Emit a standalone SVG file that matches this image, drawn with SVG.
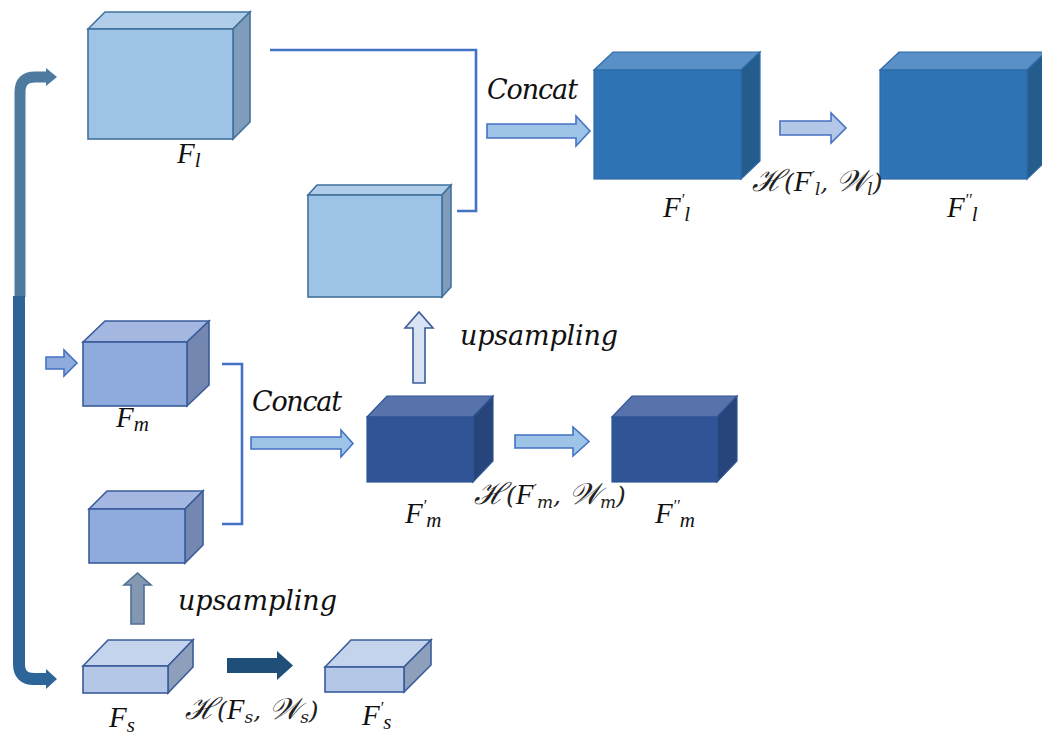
<svg xmlns="http://www.w3.org/2000/svg" width="1042" height="742" viewBox="0 0 1042 742">
  <defs>
    <style>
      .lb .front { fill: #9DC3E6; } .lb .top { fill: #B0CDEA; } .lb .side { fill: #7F9DBA; }
      .lb polygon, .lb rect { stroke: #41719C; stroke-width: 1.6; }
      .mb .front { fill: #8FAADC; } .mb .top { fill: #A3B7E1; } .mb .side { fill: #7387B0; }
      .mb polygon, .mb rect { stroke: #3A5C9B; stroke-width: 1.6; }
      .sb .front { fill: #B4C7E7; } .sb .top { fill: #C5D4ED; } .sb .side { fill: #8E9FBC; }
      .sb polygon, .sb rect { stroke: #3A5C9B; stroke-width: 1.6; }
      .db .front { fill: #2E74B5; } .db .top { fill: #5890C7; } .db .side { fill: #255C8E; }
      .db polygon, .db rect { stroke: #2E6AA6; stroke-width: 1.2; }
      .nb .front { fill: #2F5597; } .nb .top { fill: #5873AB; } .nb .side { fill: #27457A; }
      .nb polygon, .nb rect { stroke: #2F5597; stroke-width: 1.2; }
      .bracket { fill: none; stroke: #4472C4; stroke-width: 2.6; }
      .arr-light { fill: #9DC3E6; stroke: #4472C4; stroke-width: 1.6; }
      .arr-pale { fill: #B4C7E7; stroke: #4472C4; stroke-width: 1.6; }
      .arr-mid { fill: #8FAADC; stroke: #4472C4; stroke-width: 1.6; }
      .arr-up { fill: #DAE3F3; stroke: #3A5C9B; stroke-width: 1.6; }
      .arr-grey { fill: #8497B0; stroke: #4F6F96; stroke-width: 1.6; }
      .arr-dark { fill: #1F4E79; }
      .word { font-family: "DejaVu Serif", "Liberation Serif", serif; font-style: italic; font-size: 27px; fill: #111; }
      .math { font-family: "Liberation Serif", "DejaVu Serif", serif; font-style: italic; font-size: 29px; fill: #111; }
      .fn { font-family: "DejaVu Serif", "Liberation Serif", serif; font-style: italic; font-size: 25px; fill: #222; }
      .scr { font-size: 30px; }
      .sub { font-size: 17px; }
      .pr { font-size: 15px; }
    </style>
  </defs>

  <!-- skip connection bars on the left -->
  <g id="connectors">
    <path d="M20,297 V92 Q20,77 35,77 H47" fill="none" stroke="#4E7AA0" stroke-width="11"/>
    <polygon points="46,68 57,77 46,86" fill="#4E7AA0"/>
    <path d="M19,296 V664 Q19,679 34,679 H47" fill="none" stroke="#2D6599" stroke-width="12"/>
    <polygon points="46,669 57,679 46,689" fill="#2D6599"/>

    <!-- concat brackets -->
    <polyline class="bracket" points="270,50 476,50 476,211 457,211"/>
    <polyline class="bracket" points="222,364 242,364 242,524 222,524"/>

    <!-- block arrows -->
    <polygon class="arr-light" points="487,124 576,124 576,116 590,131 576,146 576,138 487,138"/>
    <polygon class="arr-pale" points="780,121 831,121 831,113 846,128 831,143 831,135 780,135"/>
    <polygon class="arr-light" points="251,437 341,437 341,430 353,443.5 341,457 341,449 251,449"/>
    <polygon class="arr-light" points="515,435 573,435 573,427 589,441.5 573,456 573,448 515,448"/>
    <polygon class="arr-mid" points="46,357 64,357 64,350 77,363 64,376 64,369 46,369"/>
    <polygon class="arr-up" points="413,383 413,328 405,328 419,312 433,328 425,328 425,383"/>
    <polygon class="arr-grey" points="131,624 131,585 124,585 137.5,573 151,585 144,585 144,624"/>
    <polygon class="arr-dark" points="227,658 277,658 277,651 293,665.5 277,680 277,673 227,673"/>
  </g>

  <!-- large-scale feature -->
  <g id="node-Fl" class="lb">
    <polygon class="top" points="88,29 105,12 250,12 233,29"/>
    <polygon class="side" points="233,29 250,12 250,122 233,139"/>
    <rect class="front" x="88" y="29" width="145" height="110"/>
  </g>

  <!-- upsampled medium-scale feature -->
  <g id="node-Fm-up" class="lb">
    <polygon class="top" points="308,195 317,185 451,185 442,195"/>
    <polygon class="side" points="442,195 451,185 451,287 442,297"/>
    <rect class="front" x="308" y="195" width="134" height="102"/>
  </g>

  <g id="node-Fl1" class="db">
    <polygon class="top" points="594,70 613,52 760,52 741,70"/>
    <polygon class="side" points="741,70 760,52 760,161 741,179"/>
    <rect class="front" x="594" y="70" width="147" height="109"/>
  </g>

  <g id="node-Fl2" class="db">
    <polygon class="top" points="880,70 899,52 1046,52 1027,70"/>
    <polygon class="side" points="1027,70 1046,52 1046,161 1027,179"/>
    <rect class="front" x="880" y="70" width="147" height="109"/>
  </g>

  <g id="node-Fm" class="mb">
    <polygon class="top" points="83,342 105,321 209,321 187,342"/>
    <polygon class="side" points="187,342 209,321 209,385 187,406"/>
    <rect class="front" x="83" y="342" width="104" height="64"/>
  </g>

  <!-- upsampled small-scale feature -->
  <g id="node-Fs-up" class="mb">
    <polygon class="top" points="89,509 107,491 203,491 185,509"/>
    <polygon class="side" points="185,509 203,491 203,545 185,563"/>
    <rect class="front" x="89" y="509" width="96" height="54"/>
  </g>

  <g id="node-Fm1" class="nb">
    <polygon class="top" points="367,417 387,396 493,396 473,417"/>
    <polygon class="side" points="473,417 493,396 493,461 473,482"/>
    <rect class="front" x="367" y="417" width="106" height="65"/>
  </g>

  <g id="node-Fm2" class="nb">
    <polygon class="top" points="612,417 632,396 737,396 717,417"/>
    <polygon class="side" points="717,417 737,396 737,461 717,482"/>
    <rect class="front" x="612" y="417" width="105" height="65"/>
  </g>

  <g id="node-Fs" class="sb">
    <polygon class="top" points="83,666 108,640 193,640 168,666"/>
    <polygon class="side" points="168,666 193,640 193,667 168,693"/>
    <rect class="front" x="83" y="666" width="85" height="27"/>
  </g>

  <g id="node-Fs1" class="sb">
    <polygon class="top" points="325,667 351,640 431,640 404,667"/>
    <polygon class="side" points="404,667 431,640 431,665 404,692"/>
    <rect class="front" x="325" y="667" width="79" height="25"/>
  </g>

  <!-- labels -->
  <g id="labels">
    <text class="word" x="487" y="99" textLength="91" lengthAdjust="spacing">Concat</text>
    <text class="word" x="252" y="411" textLength="90" lengthAdjust="spacing">Concat</text>
    <text class="word" x="460" y="345" textLength="158" lengthAdjust="spacing">upsampling</text>
    <text class="word" x="178" y="610" textLength="159" lengthAdjust="spacing">upsampling</text>

    <text class="math" x="177" y="163">F<tspan font-size="21" dy="4">l</tspan></text>
    <text class="math" x="663" y="217">F<tspan font-size="16" dy="-12">′</tspan><tspan font-size="21" dy="16">l</tspan></text>
    <text class="math" x="947" y="217">F<tspan font-size="16" dy="-12">′′</tspan><tspan font-size="21" dy="16">l</tspan></text>
    <text class="math" x="116" y="427">F<tspan font-size="21" dy="4">m</tspan></text>
    <text class="math" x="405" y="523">F<tspan font-size="16" dy="-12">′</tspan><tspan font-size="21" dy="16">m</tspan></text>
    <text class="math" x="655" y="523">F<tspan font-size="16" dy="-12">′′</tspan><tspan font-size="21" dy="16">m</tspan></text>
    <text class="math" x="109" y="727">F<tspan font-size="21" dy="5">s</tspan></text>
    <text class="math" x="362" y="725">F<tspan font-size="16" dy="-12">′</tspan><tspan font-size="21" dy="16">s</tspan></text>

    <text class="fn" x="752" y="191"><tspan class="scr">ℋ</tspan>(<tspan class="math" font-size="25">F</tspan><tspan class="pr" dy="-9">′</tspan><tspan class="sub" dy="13">l</tspan><tspan dy="-4">, </tspan><tspan class="scr">𝒲</tspan><tspan class="sub" dy="4">l</tspan><tspan dy="-4">)</tspan></text>
    <text class="fn" x="474" y="504"><tspan class="scr">ℋ</tspan>(<tspan class="math" font-size="25">F</tspan><tspan class="pr" dy="-9">′</tspan><tspan class="sub" dy="13">m</tspan><tspan dy="-4">, </tspan><tspan class="scr">𝒲</tspan><tspan class="sub" dy="4">m</tspan><tspan dy="-4">)</tspan></text>
    <text class="fn" x="185" y="719"><tspan class="scr">ℋ</tspan>(<tspan class="math" font-size="25">F</tspan><tspan class="sub" dy="4">s</tspan><tspan dy="-4">, </tspan><tspan class="scr">𝒲</tspan><tspan class="sub" dy="4">s</tspan><tspan dy="-4">)</tspan></text>
  </g>
</svg>
